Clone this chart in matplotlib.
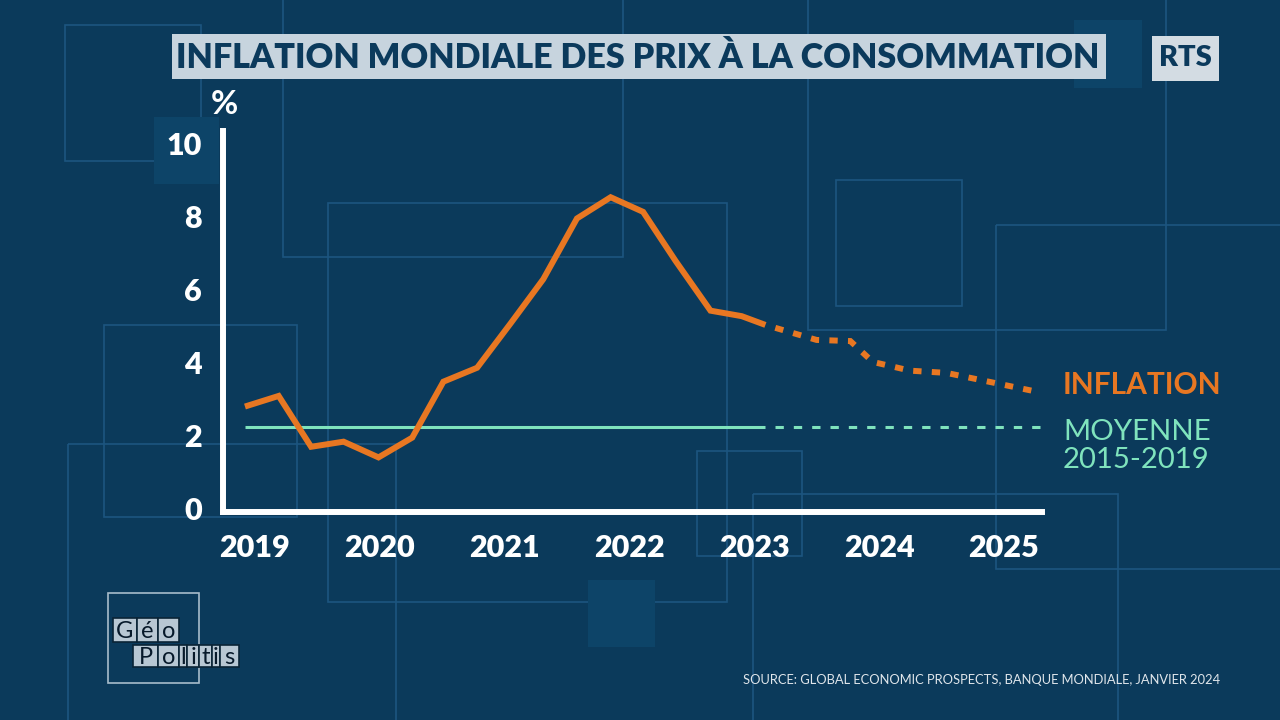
import matplotlib
matplotlib.use('Agg')
import matplotlib.pyplot as plt
from matplotlib import font_manager as fm
from matplotlib.patches import Rectangle

# data (decimal year, %)
hist_x = [2018.92, 2019.19, 2019.45, 2019.71, 2019.99, 2020.26, 2020.51, 2020.78,
          2021.05, 2021.31, 2021.58, 2021.85, 2022.11, 2022.37, 2022.65, 2022.90, 2023.09]
hist_y = [2.80, 3.09, 1.70, 1.84, 1.41, 1.95, 3.48, 3.86,
          5.08, 6.28, 7.94, 8.52, 8.12, 6.78, 5.42, 5.27, 5.03]
fcst_x = [2023.50, 2023.77, 2023.95, 2024.25, 2024.54, 2025.30]
fcst_y = [4.62, 4.59, 4.02, 3.78, 3.72, 3.18]
avg_2015_2019 = 2.25
years = [2019, 2020, 2021, 2022, 2023, 2024, 2025]
yticks = [0, 2, 4, 6, 8, 10]

title = 'INFLATION MONDIALE DES PRIX À LA CONSOMMATION'
source = 'SOURCE: GLOBAL ECONOMIC PROSPECTS, BANQUE MONDIALE, JANVIER 2024'

BG = '#0b3a5b'
DECO = '#1c5580'
FILL = '#0d4468'
ORANGE = '#e87722'
MINT = '#7fe3bd'
BOX = '#c7d4de'
NAVY = '#0b3a5c'

plt.rcParams['lines.scale_dashes'] = False


def pick(names):
    for n in names:
        try:
            fm.findfont(fm.FontProperties(family=n), fallback_to_default=False)
            return n
        except ValueError:
            pass
    return 'DejaVu Sans'


MAIN = pick(['Lato', 'Open Sans', 'DejaVu Sans'])
NARROW = pick(['Liberation Sans Narrow', 'Lato'])

fig = plt.figure(figsize=(12.8, 7.2), dpi=100)
fig.patch.set_facecolor(BG)

# background layer in pixel coordinates
bg = fig.add_axes([0, 0, 1, 1])
bg.set_xlim(0, 1280)
bg.set_ylim(720, 0)
bg.axis('off')

outlines = [(65, 25, 201, 161), (283, -5, 623, 257), (328, 203, 727, 602),
            (836, 180, 962, 306), (808, -5, 1166, 330), (996, 225, 1290, 569),
            (104, 325, 297, 517), (68, 444, 396, 730), (697, 451, 802, 556),
            (753, 494, 1118, 730)]
for x0, y0, x1, y1 in outlines:
    bg.add_patch(Rectangle((x0, y0), x1 - x0, y1 - y0, fill=False,
                           edgecolor=DECO, lw=1.2, zorder=1))
for x0, y0, x1, y1 in [(154, 117, 219, 184), (1074, 20, 1142, 88), (588, 580, 655, 647)]:
    bg.add_patch(Rectangle((x0, y0), x1 - x0, y1 - y0, facecolor=FILL,
                           edgecolor='none', zorder=2))

# title and logo boxes
bg.add_patch(Rectangle((172, 34), 1106 - 172, 45, facecolor=BOX, edgecolor='none', zorder=3))
bg.add_patch(Rectangle((1152, 36), 1219 - 1152, 45, facecolor='#d3dce3', edgecolor='none', zorder=3))

renderer = fig.canvas.get_renderer()


def fit(t, width):
    bb = t.get_window_extent(renderer)
    t.set_fontsize(t.get_fontsize() * width / bb.width)


t = bg.text(638, 57.5, title, color=NAVY, fontsize=26, fontweight='heavy',
            family=NARROW, ha='center', va='center', zorder=4)
fit(t, 925)
t = bg.text(1185.5, 58.5, 'RTS', color=NAVY, fontsize=20, fontweight='heavy',
            family=MAIN, ha='center', va='center', zorder=4)
fit(t, 53)

bg.text(224, 104, '%', color='white', fontsize=24, fontweight='bold',
        family=MAIN, ha='center', va='center', zorder=4)

t = bg.text(1063, 385, 'INFLATION', color=ORANGE, fontsize=24, fontweight='bold',
            family=MAIN, ha='left', va='center', zorder=4)
fit(t, 159)
t = bg.text(1063, 432, 'MOYENNE', color=MINT, fontsize=24,
            family=MAIN, ha='left', va='center', zorder=4)
fit(t, 148)
t = bg.text(1063, 460, '2015-2019', color=MINT, fontsize=24,
            family=MAIN, ha='left', va='center', zorder=4)
fit(t, 147)

t = bg.text(1220, 680, source, color='#e0e6eb', fontsize=10,
            family=MAIN, ha='right', va='center', zorder=4)
fit(t, 475)

# GeoPolitis logo
bg.add_patch(Rectangle((108, 593), 91, 90, fill=False, edgecolor='#a8bccb', lw=1.2, zorder=3))
geo_edges = [113, 137, 158, 179]
pol_edges = [133, 158, 179, 187, 199, 212, 220, 239]
for letters, edges, y0, y1 in [('Géo', geo_edges, 618, 642), ('Politis', pol_edges, 645, 667)]:
    for i, ch in enumerate(letters):
        x0, x1 = edges[i], edges[i + 1]
        bg.add_patch(Rectangle((x0, y0), x1 - x0, y1 - y0, facecolor='#b8c7d3',
                               edgecolor='#0a2436', lw=1.2, zorder=4))
        bg.text((x0 + x1) / 2, (y0 + y1) / 2 + 1, ch, color='#07192a', fontsize=17,
                family=MAIN, ha='center', va='center', zorder=5)

# main chart
ax = fig.add_axes([223 / 1280, 1 - 512 / 720, (1042 - 223) / 1280, (512 - 131) / 720])
ax.patch.set_alpha(0)
ax.set_xlim(2018.744, 2025.306)
ax.set_ylim(-0.082, 10.33)
for side in ['top', 'right']:
    ax.spines[side].set_visible(False)
for side in ['left', 'bottom']:
    ax.spines[side].set_color('white')
    ax.spines[side].set_linewidth(4.3)
    ax.spines[side].set_capstyle('projecting')

ax.plot([hist_x[0], hist_x[-1]], [avg_2015_2019] * 2, color=MINT, lw=2.2,
        solid_capstyle='butt', clip_on=False)
ax.plot([hist_x[-1], fcst_x[-1]], [avg_2015_2019] * 2, color=MINT, lw=2.2,
        linestyle=(6, (6, 7.2)), dash_capstyle='butt', clip_on=False)

ax.plot(hist_x, hist_y, color=ORANGE, lw=4.3, solid_joinstyle='miter',
        solid_capstyle='butt', clip_on=False)
ax.plot([hist_x[-1]] + fcst_x, [hist_y[-1]] + fcst_y, color=ORANGE, lw=4.3,
        linestyle=(6, (6, 7.4)), dash_capstyle='butt', dash_joinstyle='miter',
        clip_on=False)

ax.set_xticks(years)
ax.set_xticklabels([str(y) for y in years])
ax.set_yticks(yticks)
ax.set_yticklabels([str(v) for v in yticks])
ax.tick_params(length=0, colors='white', labelsize=22)
ax.tick_params(axis='x', pad=16)
ax.tick_params(axis='y', pad=15)
for lab in ax.get_xticklabels() + ax.get_yticklabels():
    lab.set_fontweight('heavy')
    lab.set_family(MAIN)

fig.savefig('out.png', dpi=100, facecolor=BG)
